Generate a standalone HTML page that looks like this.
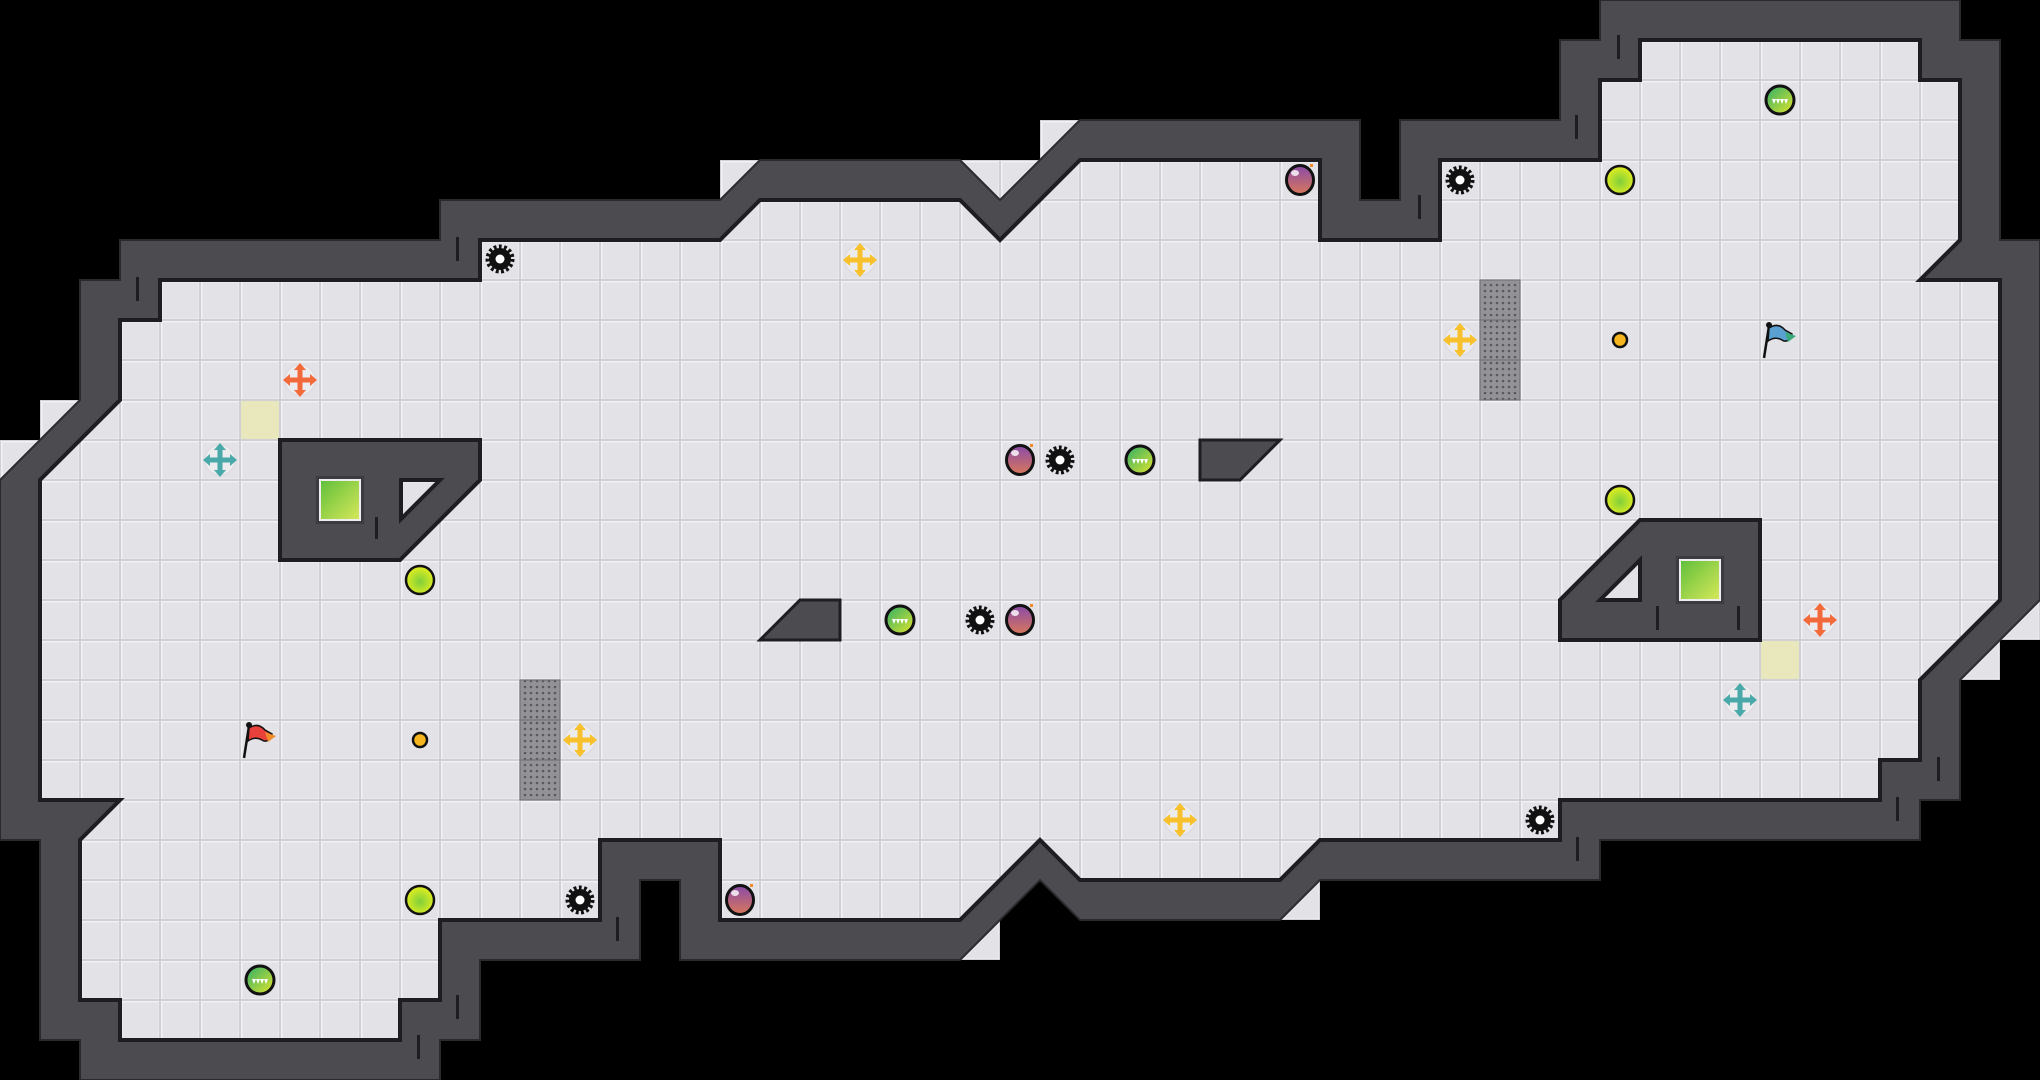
<!DOCTYPE html>
<html><head><meta charset="utf-8"><style>
html,body{margin:0;padding:0;background:#000;}
svg{display:block;}
</style></head><body>
<svg width="2040" height="1080" viewBox="0 0 2040 1080" xmlns="http://www.w3.org/2000/svg">
<defs>
<pattern id="t" width="40" height="40" patternUnits="userSpaceOnUse">
<rect width="40" height="40" fill="#cfcfd4"/>
<rect x="1" y="1" width="38" height="38" fill="#f2f2f4"/>
<rect x="2.5" y="2.5" width="36" height="36" fill="#e3e3e7"/>
</pattern>
<pattern id="gd" width="6" height="6" patternUnits="userSpaceOnUse">
<rect width="6" height="6" fill="#939397"/><circle cx="3" cy="3" r="1.3" fill="#5a5a5e"/>
</pattern>
<radialGradient id="yg" cx="50%" cy="55%" r="55%"><stop offset="0" stop-color="#7fcf3a"/><stop offset="1" stop-color="#e6ef1e"/></radialGradient>
<linearGradient id="pg" x1="0" y1="0" x2="0" y2="1"><stop offset="0" stop-color="#8a4aa8"/><stop offset="1" stop-color="#d9785a"/></linearGradient>
<linearGradient id="tg" x1="0" y1="0" x2="1" y2="1"><stop offset="0" stop-color="#2fae6a"/><stop offset="1" stop-color="#e0e62a"/></linearGradient>
<linearGradient id="sq" x1="0" y1="0" x2="1" y2="1"><stop offset="0" stop-color="#5fbf3a"/><stop offset="1" stop-color="#d8e85a"/></linearGradient>
<symbol id="plus" viewBox="-20 -20 40 40" overflow="visible">
<circle r="15" fill="#ececef" stroke="#dcdce0" stroke-width="1"/>
<rect x="-2.5" y="-11" width="5" height="22" fill="currentColor"/>
<rect x="-11" y="-2.5" width="22" height="5" fill="currentColor"/>
<polygon points="0,-17 -6,-10 6,-10" fill="currentColor"/>
<polygon points="0,17 -6,10 6,10" fill="currentColor"/>
<polygon points="-17,0 -10,-6 -10,6" fill="currentColor"/>
<polygon points="17,0 10,-6 10,6" fill="currentColor"/>
</symbol>
<symbol id="gear" viewBox="-20 -20 40 40" overflow="visible">
<circle r="11.5" fill="none" stroke="#111" stroke-width="6" stroke-dasharray="2.6 2.2"/>
<circle r="11" fill="#111"/>
<circle r="4.5" fill="#fff"/>
</symbol>
<symbol id="yb" viewBox="-20 -20 40 40" overflow="visible">
<circle r="14" fill="url(#yg)" stroke="#111" stroke-width="2.5"/>
</symbol>
<symbol id="pb" viewBox="-20 -20 40 40" overflow="visible">
<ellipse rx="13.5" ry="14.5" fill="url(#pg)" stroke="#111" stroke-width="3"/>
<ellipse cx="-5" cy="-7" rx="4" ry="3" fill="#fff" opacity="0.8"/>
<rect x="10" y="-16" width="3" height="3" fill="#f08a2a"/>
</symbol>
<symbol id="tb" viewBox="-20 -20 40 40" overflow="visible">
<circle r="14" fill="url(#tg)" stroke="#111" stroke-width="3"/>
<polygon points="-8,-1 8,-1 6,4 4,-1 2,4 0,-1 -2,4 -4,-1 -6,4" fill="#fff"/>
</symbol>
</defs>

<rect width="2040" height="1080" fill="#000"/>

<g fill="url(#t)">
<rect x="40" y="400" width="40" height="40"/><rect x="0" y="440" width="40" height="40"/>
<rect x="720" y="160" width="40" height="40"/>
<rect x="960" y="160" width="80" height="40"/><rect x="1040" y="120" width="40" height="40"/>
<rect x="960" y="920" width="40" height="40"/><rect x="1280" y="880" width="40" height="40"/>
<rect x="2000" y="600" width="40" height="40"/><rect x="1960" y="640" width="40" height="40"/>
</g>

<polygon fill="#4b4b50" stroke="#2a2a2e" stroke-width="2" points="1080,120 1360,120 1360,200 1400,200 1400,120 1560,120 1560,40 1600,40 1600,0 1960,0 1960,40 2000,40 2000,240 2040,240 2040,600 1960,680 1960,800 1920,800 1920,840 1600,840 1600,880 1320,880 1280,920 1080,920 1040,880 960,960 680,960 680,880 640,880 640,960 480,960 480,1040 440,1040 440,1080 80,1080 80,1040 40,1040 40,840 0,840 0,480 80,400 80,280 120,280 120,240 440,240 440,200 720,200 760,160 960,160 1000,200"/>

<polygon fill="url(#t)" stroke="#1e1e22" stroke-width="4" stroke-linejoin="miter" points="2000,280 2000,600 1920,680 1920,760 1880,760 1880,800 1560,800 1560,840 1320,840 1280,880 1080,880 1040,840 960,920 720,920 720,840 600,840 600,920 440,920 440,1000 400,1000 400,1040 120,1040 120,1000 80,1000 80,840 120,800 40,800 40,480 120,400 120,320 160,320 160,280 480,280 480,240 720,240 760,200 960,200 1000,240 1080,160 1320,160 1320,240 1440,240 1440,160 1600,160 1600,80 1640,80 1640,40 1920,40 1920,80 1960,80 1960,240 1920,280"/>

<rect x="241" y="401" width="38" height="38" fill="#e9e8bd"/>
<rect x="1761" y="641" width="38" height="38" fill="#e9e8bd"/>

<g stroke="#6e6e72" stroke-width="1">
<rect x="520" y="680" width="40" height="40" fill="url(#gd)"/><rect x="520" y="720" width="40" height="40" fill="url(#gd)"/><rect x="520" y="760" width="40" height="40" fill="url(#gd)"/>
<rect x="1480" y="280" width="40" height="40" fill="url(#gd)"/><rect x="1480" y="320" width="40" height="40" fill="url(#gd)"/><rect x="1480" y="360" width="40" height="40" fill="url(#gd)"/>
</g>

<polygon points="280,440 480,440 480,480 400,560 280,560" fill="#4b4b50" stroke="#1e1e22" stroke-width="4"/>
<polygon points="401,480 440,480 401,519" fill="url(#t)" stroke="#1e1e22" stroke-width="4"/>
<rect x="316" y="476" width="48" height="48" fill="#3c3c40"/>
<rect x="320" y="480" width="40" height="40" fill="url(#sq)" stroke="#eee" stroke-width="2"/>
<rect x="375" y="517" width="3" height="22" fill="#1e1e22"/>

<polygon points="1640,520 1760,520 1760,640 1560,640 1560,600" fill="#4b4b50" stroke="#1e1e22" stroke-width="4"/>
<polygon points="1640,560 1640,600 1600,600" fill="url(#t)" stroke="#1e1e22" stroke-width="4"/>
<rect x="1676" y="556" width="48" height="48" fill="#3c3c40"/>
<rect x="1680" y="560" width="40" height="40" fill="url(#sq)" stroke="#eee" stroke-width="2"/>
<rect x="1656" y="606" width="3" height="24" fill="#1e1e22"/><rect x="1737" y="606" width="3" height="24" fill="#1e1e22"/>

<polygon points="1200,440 1280,440 1240,480 1200,480" fill="#4b4b50" stroke="#1e1e22" stroke-width="3"/>
<polygon points="800,600 840,600 840,640 760,640" fill="#4b4b50" stroke="#1e1e22" stroke-width="3"/>

<g fill="#1e1e22">
<rect x="136" y="277" width="3" height="24"/><rect x="456" y="237" width="3" height="24"/>
<rect x="1617" y="35" width="3" height="24"/><rect x="1575" y="115" width="3" height="24"/>
<rect x="1418" y="195" width="3" height="24"/><rect x="1937" y="757" width="3" height="24"/>
<rect x="1896" y="797" width="3" height="24"/><rect x="1576" y="837" width="3" height="24"/>
<rect x="616" y="917" width="3" height="24"/><rect x="456" y="995" width="3" height="24"/>
<rect x="417" y="1035" width="3" height="24"/>
</g>

<g>
<use href="#gear" x="480" y="239" width="40" height="40"/>
<use href="#gear" x="1440" y="160" width="40" height="40"/>
<use href="#gear" x="1040" y="440" width="40" height="40"/>
<use href="#gear" x="960" y="600" width="40" height="40"/>
<use href="#gear" x="560" y="880" width="40" height="40"/>
<use href="#gear" x="1520" y="800" width="40" height="40"/>

<use href="#pb" x="1280" y="160" width="40" height="40"/>
<use href="#pb" x="1000" y="440" width="40" height="40"/>
<use href="#pb" x="1000" y="600" width="40" height="40"/>
<use href="#pb" x="720" y="880" width="40" height="40"/>

<use href="#tb" x="1760" y="80" width="40" height="40"/>
<use href="#tb" x="1120" y="440" width="40" height="40"/>
<use href="#tb" x="880" y="600" width="40" height="40"/>
<use href="#tb" x="240" y="960" width="40" height="40"/>

<use href="#yb" x="1600" y="160" width="40" height="40"/>
<use href="#yb" x="1600" y="480" width="40" height="40"/>
<use href="#yb" x="400" y="560" width="40" height="40"/>
<use href="#yb" x="400" y="880" width="40" height="40"/>

<circle cx="1620" cy="340" r="7" fill="#f5b51e" stroke="#111" stroke-width="2.5"/>
<circle cx="420" cy="740" r="7" fill="#f5b51e" stroke="#111" stroke-width="2.5"/>

<use href="#plus" x="280" y="360" width="40" height="40" style="color:#f26a3a"/>
<use href="#plus" x="1800" y="600" width="40" height="40" style="color:#f26a3a"/>
<use href="#plus" x="200" y="440" width="40" height="40" style="color:#4aa8a8"/>
<use href="#plus" x="1720" y="680" width="40" height="40" style="color:#4aa8a8"/>
<use href="#plus" x="840" y="240" width="40" height="40" style="color:#f8c02a"/>
<use href="#plus" x="1440" y="320" width="40" height="40" style="color:#f8c02a"/>
<use href="#plus" x="560" y="720" width="40" height="40" style="color:#f8c02a"/>
<use href="#plus" x="1160" y="800" width="40" height="40" style="color:#f8c02a"/>
</g>

<g>
<line x1="244" y1="758" x2="249" y2="726" stroke="#111" stroke-width="2.5"/>
<circle cx="249" cy="725" r="3" fill="#111"/>
<path d="M249,728 Q258,722 265,730 L272,734 Q268,744 262,740 Q255,736 248,741 Z" fill="#e8403a" stroke="#111" stroke-width="1.5"/>
<path d="M265,732 L276,736 L268,742 Z" fill="#f08a2a"/>
<line x1="1764" y1="358" x2="1769" y2="326" stroke="#111" stroke-width="2.5"/>
<circle cx="1769" cy="325" r="3" fill="#111"/>
<path d="M1769,328 Q1778,322 1785,330 L1792,334 Q1788,344 1782,340 Q1775,336 1768,341 Z" fill="#5aa0d0" stroke="#111" stroke-width="1.5"/>
<path d="M1785,332 L1796,336 L1788,342 Z" fill="#3aaa7a"/>
</g>
</svg>
</body></html>
